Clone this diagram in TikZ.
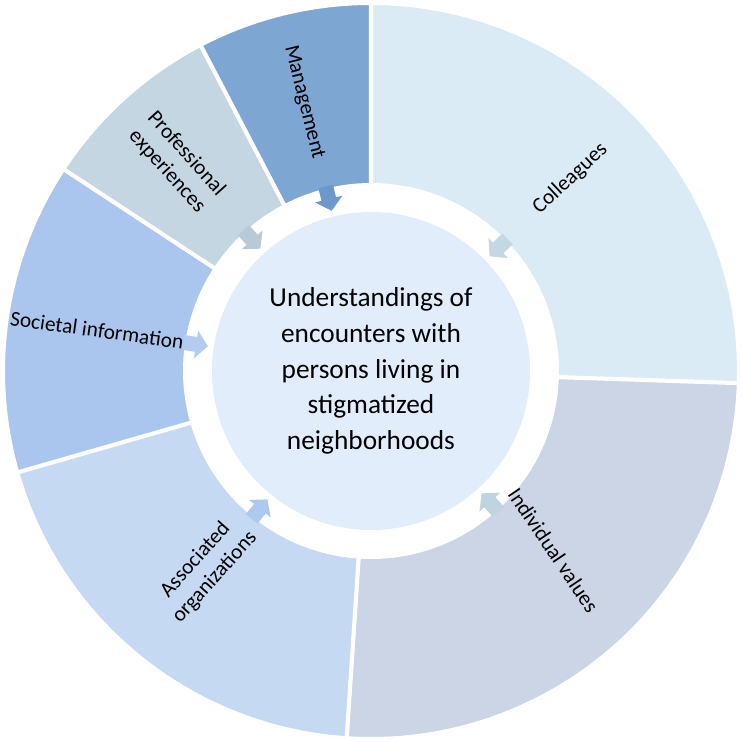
\documentclass[tikz,border=0pt]{standalone}
\usepackage{fontspec}
\setmainfont{Carlito}
\definecolor{colleaguesfill}{RGB}{218,235,245}
\definecolor{individualfill}{RGB}{203,213,230}
\definecolor{associatedfill}{RGB}{197,217,242}
\definecolor{societalfill}{RGB}{170,198,238}
\definecolor{professionalfill}{RGB}{196,214,226}
\definecolor{managementfill}{RGB}{126,166,210}
\definecolor{colleaguesarrow}{RGB}{196,216,228}
\definecolor{individualarrow}{RGB}{190,212,222}
\definecolor{associatedarrow}{RGB}{172,202,238}
\definecolor{societalarrow}{RGB}{180,204,240}
\definecolor{professionalarrow}{RGB}{184,202,216}
\definecolor{managementarrow}{RGB}{108,152,204}
\definecolor{hubfill}{RGB}{226,237,252}
\tikzset{
  sector/.style={draw=white, line width=3pt, line join=miter},
  hub/.style={circle, fill=hubfill, minimum size=238.5pt, inner sep=0pt,
    align=center, font=\fontsize{20.5}{26.8}\selectfont},
  seglabel/.style={align=center, font=\fontsize{16}{19.5}\selectfont, inner sep=1pt}
}

\begin{document}
\begin{tikzpicture}[x=0.75pt, y=0.75pt]
  \useasboundingbox (-371,-371) rectangle (371,371);

  % Ring of sectors, clockwise from the top
  \foreach \a/\b/\c in {90/-1.9/colleaguesfill, -1.9/-93.8/individualfill,
      -93.8/-164/associatedfill, -164/-213.3/societalfill,
      -213.3/-242.4/professionalfill, -242.4/-270/managementfill}
    \draw[sector, fill=\c] (\a:186) arc[start angle=\a, end angle=\b, radius=186]
      -- (\b:368) arc[start angle=\b, end angle=\a, radius=368] -- cycle;

  % Arrows pointing to the centre
  \foreach \m/\c in {44.05/colleaguesarrow, -47.85/individualarrow,
      -128.9/associatedarrow, -188.65/societalarrow,
      -227.85/professionalarrow, -256.2/managementarrow}
    \fill[\c, rotate=\m] (190,7.5) -- (177,7.5) -- (177,14) -- (165,0)
      -- (177,-14) -- (177,-7.5) -- (190,-7.5) -- cycle;

  % Centre circle
  \node[hub] (hub) at (0,0) {Understandings of\\encounters with\\persons living in\\stigmatized\\neighborhoods};

  % Sector labels
  \node[seglabel, rotate=43] (colleagues) at (44:277) {Colleagues};
  \node[seglabel, rotate=-56] (individual) at (-44.5:256) {Individual values};
  \node[seglabel, rotate=48] (associated) at (230:258) {Associated\\organizations};
  \node[seglabel, rotate=-8] (societal) at (171.5:277) {Societal information};
  \node[seglabel, rotate=-48] (professional) at (133:285) {Professional\\experiences};
  \node[seglabel, rotate=-76] (management) at (104:277) {Management};
\end{tikzpicture}
\end{document}
